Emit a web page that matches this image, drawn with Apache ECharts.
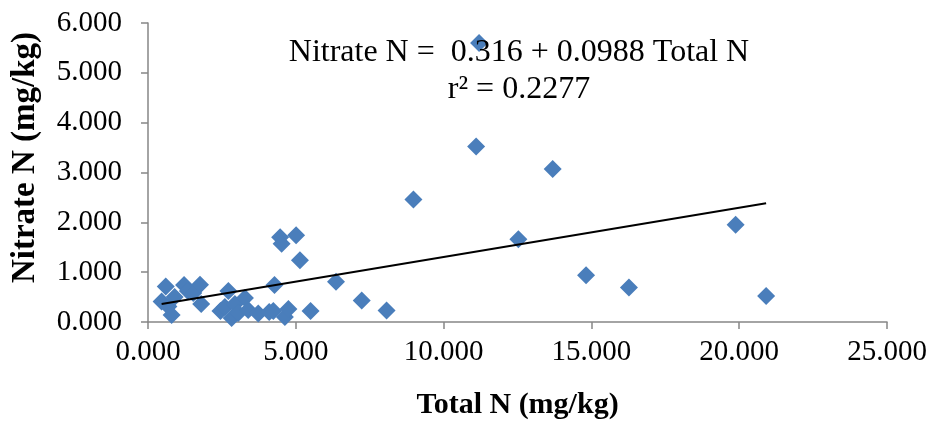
<!DOCTYPE html>
<html>
<head>
<meta charset="utf-8">
<script src="https://cdn.jsdelivr.net/npm/echarts@6/dist/echarts.min.js"></script>
<style>
  html, body { margin: 0; padding: 0; background: #fff; }
  #chart { width: 931px; height: 423px; }
</style>
</head>
<body>
<div id="chart"></div>
<script>
// 数据
var totalN = [0.46, 0.60, 0.69, 0.80, 0.90, 1.22, 1.35, 1.53, 1.76, 1.80,
              2.45, 2.60, 2.72, 2.83, 2.94, 3.05, 3.28, 3.39, 3.73, 4.10,
              4.24, 4.28, 4.47, 4.52, 4.63, 4.75, 5.01, 5.14, 5.50, 6.36,
              7.23, 8.07, 8.98, 11.10, 11.20, 12.53, 13.69, 14.82, 16.27, 19.88, 20.91];
var nitrateN = [0.41, 0.71, 0.31, 0.14, 0.50, 0.74, 0.62, 0.58, 0.75, 0.36,
                0.22, 0.30, 0.62, 0.08, 0.36, 0.18, 0.48, 0.24, 0.17, 0.20,
                0.22, 0.74, 1.70, 1.57, 0.10, 0.26, 1.74, 1.24, 0.22, 0.81,
                0.43, 0.23, 2.46, 3.52, 5.60, 1.66, 3.07, 0.94, 0.69, 1.95, 0.52];
var trendIntercept = 0.316;
var trendSlope = 0.0988;
var rSquared = 0.2277;

var serif = '"Liberation Serif", "Times New Roman", serif';

var points = totalN.map(function (x, i) { return [x, nitrateN[i]]; });
var xMin = Math.min.apply(null, totalN);
var xMax = Math.max.apply(null, totalN);
var trend = [
  [xMin, trendIntercept + trendSlope * xMin],
  [xMax, trendIntercept + trendSlope * xMax]
];

var myChart = echarts.init(document.getElementById('chart'));
var option = {
  animation: false,
  backgroundColor: '#fff',
  grid: { left: 148, right: 44, top: 23, bottom: 101, containLabel: false, outerBoundsMode: 'none' },
  xAxis: {
    type: 'value',
    min: 0, max: 25, interval: 5,
    name: 'Total N (mg/kg)',
    nameLocation: 'middle',
    nameGap: 68,
    nameTextStyle: { fontFamily: serif, fontWeight: 'bold', fontSize: 30, color: '#000' },
    axisLine: { show: true, lineStyle: { color: '#868686', width: 1.5 } },
    axisTick: { show: true, length: 7, lineStyle: { color: '#868686', width: 1.5 } },
    axisLabel: {
      margin: 16, fontFamily: serif, fontSize: 29, color: '#000',
      formatter: function (v) { return v.toFixed(3); }
    },
    splitLine: { show: false }
  },
  yAxis: {
    type: 'value',
    min: 0, max: 6, interval: 1,
    name: 'Nitrate N (mg/kg)',
    nameLocation: 'middle',
    nameGap: 106,
    nameTextStyle: { fontFamily: serif, fontWeight: 'bold', fontSize: 33, color: '#000', padding: [0, 0, 0, 30] },
    axisLine: { show: true, lineStyle: { color: '#868686', width: 1.5 } },
    axisTick: { show: true, length: 7, lineStyle: { color: '#868686', width: 1.5 } },
    axisLabel: {
      margin: 26, fontFamily: serif, fontSize: 29, color: '#000',
      formatter: function (v) { return v.toFixed(3); }
    },
    splitLine: { show: false }
  },
  graphic: [{
    type: 'text',
    x: 519,
    y: 71,
    style: {
      text: 'Nitrate N =  ' + trendIntercept.toFixed(3) + ' + ' + trendSlope.toFixed(4) + ' Total N\n' +
            'r\u00b2 = ' + rSquared.toFixed(4),
      font: '32px ' + serif,
      fill: '#000',
      align: 'center',
      verticalAlign: 'middle',
      lineHeight: 37
    },
    z: 10
  }],
  series: [
    {
      name: 'Nitrate N',
      type: 'scatter',
      symbol: 'diamond',
      symbolSize: 18,
      itemStyle: { color: '#4A7EBB', opacity: 1 },
      data: points,
      z: 3
    },
    {
      name: 'Linear',
      type: 'line',
      showSymbol: false,
      symbol: 'none',
      lineStyle: { color: '#000', width: 2 },
      data: trend,
      z: 4
    }
  ]
};
myChart.setOption(option);
</script>
</body>
</html>
